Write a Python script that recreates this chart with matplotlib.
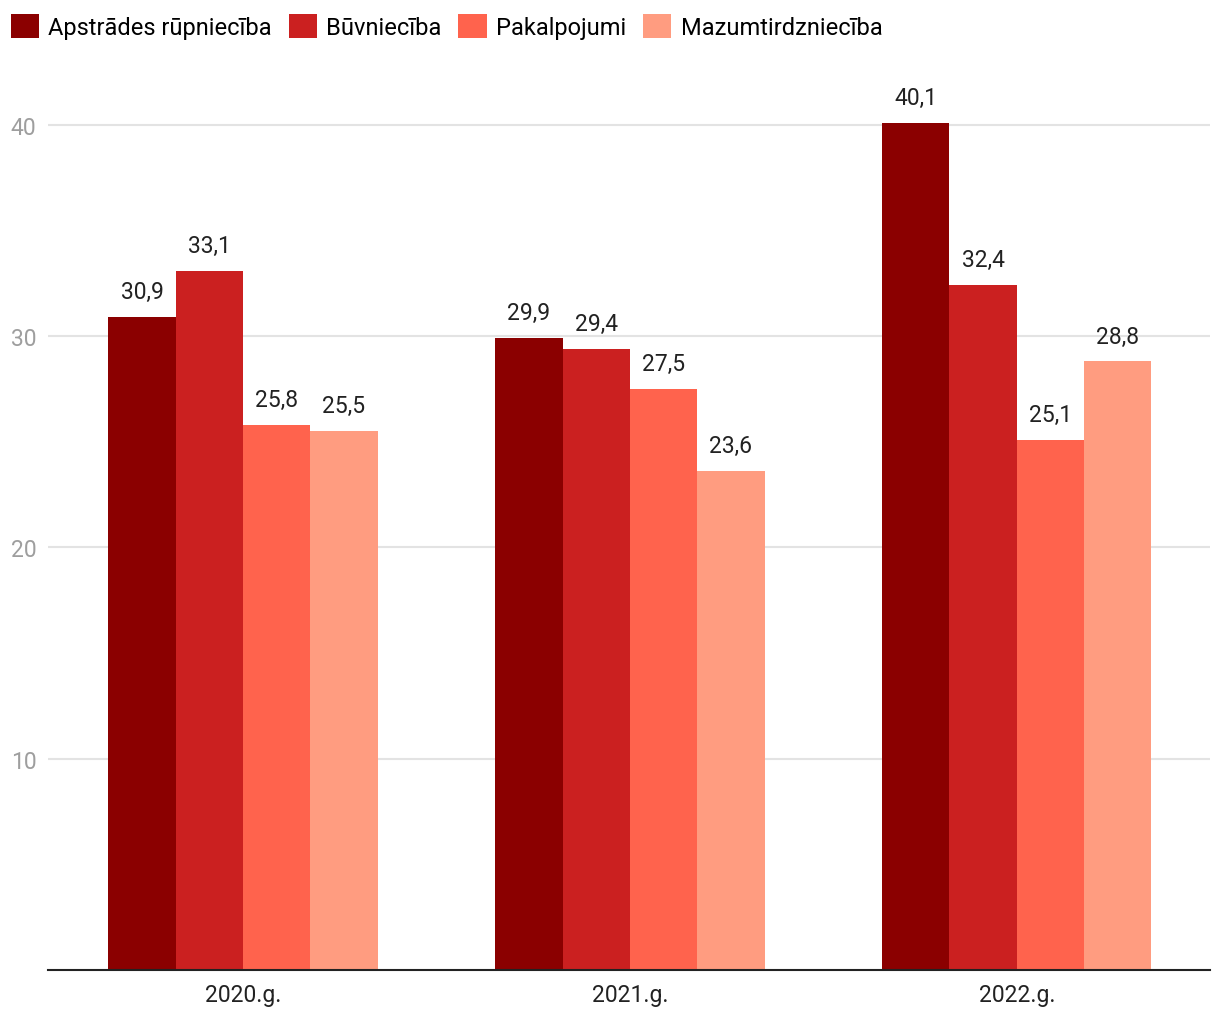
import numpy as np
import matplotlib
matplotlib.use("Agg")
import matplotlib.pyplot as plt

plt.rcParams['font.family'] = ['Roboto', 'DejaVu Sans']

# Data
years = ['2020.g.', '2021.g.', '2022.g.']
series = ['Apstrādes rūpniecība', 'Būvniecība', 'Pakalpojumi', 'Mazumtirdzniecība']
apstrade = [30.9, 29.9, 40.1]
buvnieciba = [33.1, 29.4, 32.4]
pakalpojumi = [25.8, 27.5, 25.1]
mazumtirdznieciba = [25.5, 23.6, 28.8]
colors = ['#8B0000', '#CB2020', '#FF634D', '#FF9C80']

values = [apstrade, buvnieciba, pakalpojumi, mazumtirdznieciba]

fig = plt.figure(figsize=(12.2, 10.2), dpi=100)
ax = fig.add_axes([0.039, 0.048, 0.953, 0.893])

x = np.arange(len(years))
w = 0.174
for i, (name, vals, c) in enumerate(zip(series, values, colors)):
    bars = ax.bar(x + (i - 1.5) * w, vals, w, color=c, label=name, zorder=3)
    ax.bar_label(bars, labels=[f'{v:.1f}'.replace('.', ',') for v in vals],
                 padding=10, fontsize=16.5, color='#222222')

ax.set_xlim(-0.505, 2.5)
ax.set_ylim(0, 43.1)
ax.set_xticks(x)
ax.set_xticklabels(years, fontsize=16.5, color='#222222')
ax.set_yticks([10, 20, 30, 40])
ax.tick_params(axis='y', length=0, labelsize=16.5, labelcolor='#9e9e9e', pad=-2)
ax.tick_params(axis='x', length=0, pad=9)
for lab in ax.get_yticklabels():
    lab.set_horizontalalignment('left')
    lab.set_x(-0.034)
ax.grid(axis='y', color='#e3e3e3', linewidth=1.5, zorder=0)
for s in ['top', 'right', 'left']:
    ax.spines[s].set_visible(False)
ax.spines['bottom'].set_color('#222222')
ax.spines['bottom'].set_linewidth(1.5)
ax.spines['bottom'].set_zorder(4)

fig.legend(loc='upper left', bbox_to_anchor=(0.0, 0.996), ncol=4, frameon=False,
           fontsize=17, handlelength=1.2, handleheight=1.2, handletextpad=0.4,
           columnspacing=0.7, borderpad=0.3, borderaxespad=0.15)

fig.savefig('out.png', dpi=100)
